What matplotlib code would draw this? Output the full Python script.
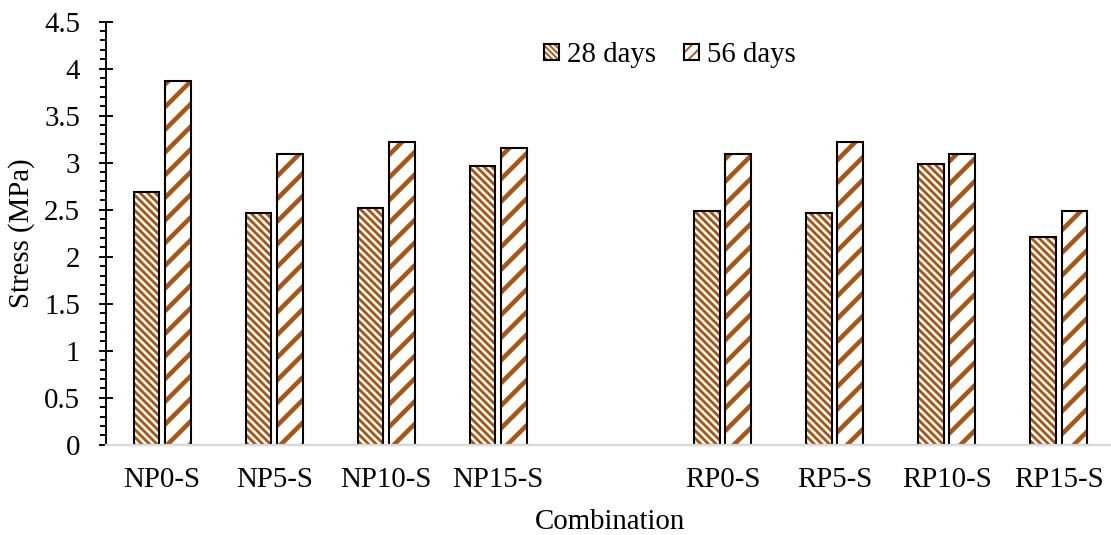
import matplotlib
matplotlib.use('Agg')
import matplotlib.pyplot as plt
import numpy as np
from matplotlib.patches import Patch
from matplotlib.legend_handler import HandlerTuple
from matplotlib.ticker import MultipleLocator, FormatStrFormatter

# data (blank category separates the NP and RP groups)
combos = ['NP0-S', 'NP5-S', 'NP10-S', 'NP15-S', '', 'RP0-S', 'RP5-S', 'RP10-S', 'RP15-S']
days28 = [2.69, 2.46, 2.52, 2.965, np.nan, 2.49, 2.46, 2.99, 2.21]
days56 = [3.87, 3.09, 3.22, 3.16, np.nan, 3.09, 3.22, 3.09, 2.49]

plt.rcParams['font.family'] = ['Liberation Serif', 'DejaVu Serif']
brown = '#AA5512'
DPI = 136
fs = 15.3
hatch28 = '\\' * 6
hatch56 = '//'

fig = plt.figure(figsize=(1111 / DPI, 535 / DPI), dpi=DPI)
ax = fig.add_axes([106 / 1111, 1 - 444.7 / 535, (1114.7 - 106) / 1111, (444.7 - 21.7) / 535])

x = np.arange(len(combos))
w = 0.228
off = 0.14

# hatched fills
with plt.rc_context({'hatch.linewidth': 1.5}):
    ax.bar(x - off, days28, w, color='white', edgecolor=brown, hatch=hatch28, linewidth=0)
with plt.rc_context({'hatch.linewidth': 2.4}):
    ax.bar(x + off, days56, w, color='white', edgecolor=brown, hatch=hatch56, linewidth=0)
# black outlines
ax.bar(x - off, days28, w, fill=False, edgecolor='black', linewidth=1.1)
ax.bar(x + off, days56, w, fill=False, edgecolor='black', linewidth=1.1)

ax.set_xlim(-0.5, len(combos) - 0.5)
ax.set_ylim(0, 4.5)
ax.yaxis.set_major_locator(MultipleLocator(0.5))
ax.yaxis.set_minor_locator(MultipleLocator(0.1))
ax.yaxis.set_major_formatter(FormatStrFormatter('%g'))
ax.set_xticks(x)
ax.set_xticklabels(combos)

ax.tick_params(axis='y', which='major', direction='inout', length=7.9, width=1.0, pad=9.8, labelsize=fs)
ax.tick_params(axis='y', which='minor', direction='out', length=3.2, width=1.0)
ax.tick_params(axis='x', length=0, pad=11.8, labelsize=fs)

for s in ['top', 'right']:
    ax.spines[s].set_visible(False)
ax.spines['left'].set_linewidth(1.0)
ax.spines['bottom'].set_color('#D9D9D9')
ax.spines['bottom'].set_linewidth(1.2)

ax.set_ylabel('Stress (MPa)', fontsize=fs, labelpad=5)
ax.set_xlabel('Combination', fontsize=fs, labelpad=8.5)

# legend handles: hatched patch overlaid with black outline
with plt.rc_context({'hatch.linewidth': 1.2}):
    p28 = Patch(facecolor='white', edgecolor=brown, hatch='\\' * 8, linewidth=0)
with plt.rc_context({'hatch.linewidth': 2.0}):
    p56 = Patch(facecolor='white', edgecolor=brown, hatch='////', linewidth=0)
b1 = Patch(fill=False, edgecolor='black', linewidth=1.1)
b2 = Patch(fill=False, edgecolor='black', linewidth=1.1)
ax.legend([(p28, b1), (p56, b2)], ['28 days', '56 days'],
          handler_map={tuple: HandlerTuple(ndivide=1, pad=0)},
          loc='center', bbox_to_anchor=(0.559, 0.921), ncol=2, frameon=False,
          fontsize=fs, handlelength=0.5, handleheight=0.5, handletextpad=0.27,
          columnspacing=1.0)

fig.savefig('out.png', dpi=DPI)
